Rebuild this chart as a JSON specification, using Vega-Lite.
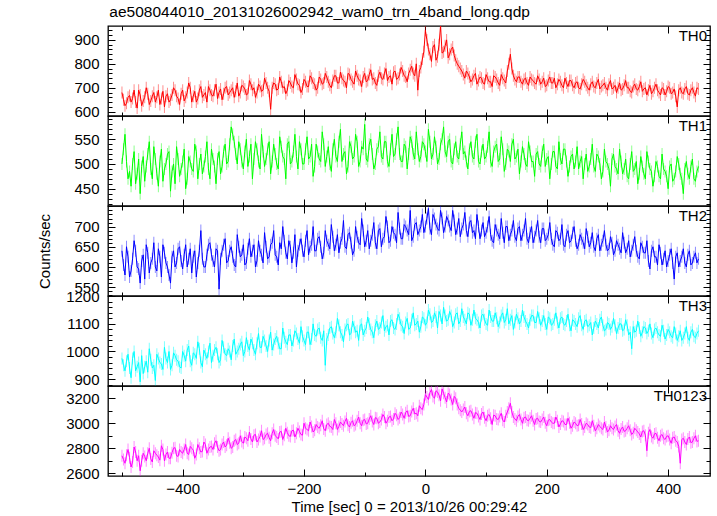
{
"$schema":"https://vega.github.io/schema/vega-lite/v6.json",
"padding":{"left":37,"top":5,"right":5,"bottom":0},
"title":{"text":"ae508044010_20131026002942_wam0_trn_4band_long.qdp","anchor":"start","fontSize":15.5,"fontWeight":"normal","font":"Liberation Sans","color":"black","offset":4,"dx":72},
"spacing":0,
"bounds":"flush",
"data":{"values":[
{"t":-500,"TH0":680,"TH1":500,"TH2":640,"TH3":975,"TH0123":2740},
{"t":-497.5,"TH0":650,"TH1":530,"TH2":605,"TH3":950,"TH0123":2710},
{"t":-495,"TH0":625,"TH1":560,"TH2":580,"TH3":930,"TH0123":2680},
{"t":-492.5,"TH0":635,"TH1":505,"TH2":650,"TH3":965,"TH0123":2745},
{"t":-490,"TH0":660,"TH1":470,"TH2":625,"TH3":990,"TH0123":2790},
{"t":-487.5,"TH0":668,"TH1":485,"TH2":575,"TH3":940,"TH0123":2725},
{"t":-485,"TH0":640,"TH1":455,"TH2":590,"TH3":905,"TH0123":2650},
{"t":-482.5,"TH0":655,"TH1":500,"TH2":620,"TH3":975,"TH0123":2690},
{"t":-480,"TH0":690,"TH1":525,"TH2":665,"TH3":1000,"TH0123":2810},
{"t":-477.5,"TH0":640,"TH1":460,"TH2":640,"TH3":930,"TH0123":2770},
{"t":-475,"TH0":615,"TH1":480,"TH2":600,"TH3":945,"TH0123":2700},
{"t":-472.5,"TH0":690,"TH1":510,"TH2":595,"TH3":960,"TH0123":2740},
{"t":-470,"TH0":670,"TH1":440,"TH2":560,"TH3":890,"TH0123":2620},
{"t":-467.5,"TH0":625,"TH1":495,"TH2":615,"TH3":985,"TH0123":2700},
{"t":-465,"TH0":645,"TH1":515,"TH2":630,"TH3":920,"TH0123":2760},
{"t":-462.5,"TH0":660,"TH1":465,"TH2":570,"TH3":945,"TH0123":2735},
{"t":-460,"TH0":700,"TH1":495,"TH2":655,"TH3":965,"TH0123":2700},
{"t":-457.5,"TH0":675,"TH1":520,"TH2":635,"TH3":925,"TH0123":2760},
{"t":-455,"TH0":630,"TH1":545,"TH2":585,"TH3":1010,"TH0123":2800},
{"t":-452.5,"TH0":645,"TH1":490,"TH2":610,"TH3":970,"TH0123":2715},
{"t":-450,"TH0":665,"TH1":470,"TH2":620,"TH3":940,"TH0123":2690},
{"t":-447.5,"TH0":680,"TH1":535,"TH2":660,"TH3":950,"TH0123":2780},
{"t":-445,"TH0":640,"TH1":510,"TH2":600,"TH3":895,"TH0123":2760},
{"t":-442.5,"TH0":660,"TH1":480,"TH2":590,"TH3":990,"TH0123":2745},
{"t":-440,"TH0":690,"TH1":455,"TH2":645,"TH3":975,"TH0123":2730},
{"t":-437.5,"TH0":630,"TH1":505,"TH2":625,"TH3":960,"TH0123":2705},
{"t":-435,"TH0":655,"TH1":530,"TH2":575,"TH3":955,"TH0123":2820},
{"t":-432.5,"TH0":685,"TH1":465,"TH2":655,"TH3":935,"TH0123":2790},
{"t":-430,"TH0":620,"TH1":490,"TH2":635,"TH3":1015,"TH0123":2700},
{"t":-427.5,"TH0":665,"TH1":500,"TH2":610,"TH3":975,"TH0123":2750},
{"t":-425,"TH0":675,"TH1":520,"TH2":600,"TH3":960,"TH0123":2770},
{"t":-422.5,"TH0":640,"TH1":525,"TH2":580,"TH3":1000,"TH0123":2720},
{"t":-420,"TH0":650,"TH1":445,"TH2":560,"TH3":935,"TH0123":2720},
{"t":-417.5,"TH0":670,"TH1":485,"TH2":625,"TH3":950,"TH0123":2765},
{"t":-415,"TH0":700,"TH1":500,"TH2":640,"TH3":995,"TH0123":2800},
{"t":-412.5,"TH0":690,"TH1":460,"TH2":600,"TH3":985,"TH0123":2805},
{"t":-410,"TH0":665,"TH1":535,"TH2":610,"TH3":970,"TH0123":2740},
{"t":-407.5,"TH0":655,"TH1":510,"TH2":645,"TH3":965,"TH0123":2735},
{"t":-405,"TH0":630,"TH1":475,"TH2":650,"TH3":945,"TH0123":2790},
{"t":-402.5,"TH0":675,"TH1":490,"TH2":615,"TH3":940,"TH0123":2770},
{"t":-400,"TH0":690,"TH1":505,"TH2":595,"TH3":1000,"TH0123":2760},
{"t":-397.5,"TH0":645,"TH1":530,"TH2":630,"TH3":985,"TH0123":2790},
{"t":-395,"TH0":660,"TH1":450,"TH2":655,"TH3":965,"TH0123":2830},
{"t":-392.5,"TH0":680,"TH1":470,"TH2":600,"TH3":1005,"TH0123":2760},
{"t":-390,"TH0":720,"TH1":515,"TH2":620,"TH3":1020,"TH0123":2750},
{"t":-387.5,"TH0":700,"TH1":505,"TH2":645,"TH3":965,"TH0123":2815},
{"t":-385,"TH0":640,"TH1":490,"TH2":585,"TH3":950,"TH0123":2800},
{"t":-382.5,"TH0":665,"TH1":485,"TH2":625,"TH3":995,"TH0123":2785},
{"t":-380,"TH0":685,"TH1":540,"TH2":640,"TH3":990,"TH0123":2720},
{"t":-377.5,"TH0":640,"TH1":525,"TH2":575,"TH3":975,"TH0123":2750},
{"t":-375,"TH0":655,"TH1":470,"TH2":610,"TH3":1035,"TH0123":2830},
{"t":-372.5,"TH0":690,"TH1":500,"TH2":640,"TH3":1010,"TH0123":2800},
{"t":-370,"TH0":705,"TH1":520,"TH2":690,"TH3":960,"TH0123":2770},
{"t":-367.5,"TH0":660,"TH1":480,"TH2":620,"TH3":945,"TH0123":2775},
{"t":-365,"TH0":670,"TH1":495,"TH2":600,"TH3":1005,"TH0123":2850},
{"t":-362.5,"TH0":680,"TH1":515,"TH2":600,"TH3":990,"TH0123":2830},
{"t":-360,"TH0":640,"TH1":545,"TH2":630,"TH3":975,"TH0123":2760},
{"t":-357.5,"TH0":705,"TH1":490,"TH2":655,"TH3":1000,"TH0123":2790},
{"t":-355,"TH0":690,"TH1":470,"TH2":660,"TH3":1030,"TH0123":2810},
{"t":-352.5,"TH0":670,"TH1":530,"TH2":630,"TH3":960,"TH0123":2815},
{"t":-350,"TH0":665,"TH1":510,"TH2":615,"TH3":985,"TH0123":2790},
{"t":-347.5,"TH0":690,"TH1":495,"TH2":600,"TH3":1005,"TH0123":2840},
{"t":-345,"TH0":715,"TH1":460,"TH2":645,"TH3":1015,"TH0123":2860},
{"t":-342.5,"TH0":655,"TH1":510,"TH2":640,"TH3":990,"TH0123":2810},
{"t":-340,"TH0":680,"TH1":525,"TH2":545,"TH3":960,"TH0123":2780},
{"t":-337.5,"TH0":695,"TH1":480,"TH2":620,"TH3":970,"TH0123":2790},
{"t":-335,"TH0":650,"TH1":495,"TH2":640,"TH3":1040,"TH0123":2830},
{"t":-332.5,"TH0":675,"TH1":525,"TH2":655,"TH3":1015,"TH0123":2850},
{"t":-330,"TH0":700,"TH1":540,"TH2":670,"TH3":990,"TH0123":2810},
{"t":-327.5,"TH0":705,"TH1":500,"TH2":610,"TH3":985,"TH0123":2825},
{"t":-325,"TH0":670,"TH1":505,"TH2":615,"TH3":1010,"TH0123":2880},
{"t":-322.5,"TH0":680,"TH1":540,"TH2":640,"TH3":1000,"TH0123":2845},
{"t":-320,"TH0":690,"TH1":575,"TH2":650,"TH3":970,"TH0123":2800},
{"t":-317.5,"TH0":700,"TH1":560,"TH2":625,"TH3":1020,"TH0123":2810},
{"t":-315,"TH0":660,"TH1":545,"TH2":605,"TH3":1045,"TH0123":2860},
{"t":-312.5,"TH0":685,"TH1":520,"TH2":600,"TH3":990,"TH0123":2870},
{"t":-310,"TH0":720,"TH1":500,"TH2":680,"TH3":1000,"TH0123":2830},
{"t":-307.5,"TH0":665,"TH1":545,"TH2":650,"TH3":1010,"TH0123":2840},
{"t":-305,"TH0":680,"TH1":530,"TH2":625,"TH3":1025,"TH0123":2900},
{"t":-302.5,"TH0":710,"TH1":505,"TH2":630,"TH3":1035,"TH0123":2855},
{"t":-300,"TH0":705,"TH1":490,"TH2":655,"TH3":985,"TH0123":2840},
{"t":-297.5,"TH0":695,"TH1":525,"TH2":605,"TH3":1000,"TH0123":2890},
{"t":-295,"TH0":670,"TH1":550,"TH2":610,"TH3":1050,"TH0123":2880},
{"t":-292.5,"TH0":675,"TH1":495,"TH2":645,"TH3":1020,"TH0123":2860},
{"t":-290,"TH0":730,"TH1":515,"TH2":670,"TH3":1005,"TH0123":2930},
{"t":-287.5,"TH0":715,"TH1":540,"TH2":625,"TH3":1045,"TH0123":2875},
{"t":-285,"TH0":690,"TH1":470,"TH2":640,"TH3":1030,"TH0123":2850},
{"t":-282.5,"TH0":700,"TH1":510,"TH2":655,"TH3":1005,"TH0123":2905},
{"t":-280,"TH0":660,"TH1":545,"TH2":600,"TH3":990,"TH0123":2910},
{"t":-277.5,"TH0":680,"TH1":530,"TH2":615,"TH3":1030,"TH0123":2850},
{"t":-275,"TH0":715,"TH1":505,"TH2":665,"TH3":1065,"TH0123":2870},
{"t":-272.5,"TH0":705,"TH1":490,"TH2":640,"TH3":1015,"TH0123":2895},
{"t":-270,"TH0":685,"TH1":560,"TH2":630,"TH3":1015,"TH0123":2940},
{"t":-267.5,"TH0":690,"TH1":525,"TH2":610,"TH3":1055,"TH0123":2870},
{"t":-265,"TH0":740,"TH1":495,"TH2":685,"TH3":1040,"TH0123":2880},
{"t":-262.5,"TH0":720,"TH1":510,"TH2":650,"TH3":1020,"TH0123":2910},
{"t":-260,"TH0":700,"TH1":530,"TH2":620,"TH3":1000,"TH0123":2920},
{"t":-257.5,"TH0":685,"TH1":545,"TH2":625,"TH3":1040,"TH0123":2885},
{"t":-255,"TH0":610,"TH1":480,"TH2":655,"TH3":1070,"TH0123":2860},
{"t":-252.5,"TH0":700,"TH1":505,"TH2":660,"TH3":1005,"TH0123":2920},
{"t":-250,"TH0":720,"TH1":540,"TH2":690,"TH3":1025,"TH0123":2950},
{"t":-247.5,"TH0":715,"TH1":520,"TH2":630,"TH3":1045,"TH0123":2900},
{"t":-245,"TH0":690,"TH1":500,"TH2":625,"TH3":1055,"TH0123":2890},
{"t":-242.5,"TH0":695,"TH1":490,"TH2":605,"TH3":1030,"TH0123":2875},
{"t":-240,"TH0":745,"TH1":555,"TH2":660,"TH3":1010,"TH0123":2930},
{"t":-237.5,"TH0":725,"TH1":535,"TH2":645,"TH3":1010,"TH0123":2935},
{"t":-235,"TH0":700,"TH1":515,"TH2":700,"TH3":1085,"TH0123":2870},
{"t":-232.5,"TH0":705,"TH1":510,"TH2":665,"TH3":1050,"TH0123":2905},
{"t":-230,"TH0":675,"TH1":470,"TH2":635,"TH3":1035,"TH0123":2960},
{"t":-227.5,"TH0":690,"TH1":540,"TH2":620,"TH3":1025,"TH0123":2925},
{"t":-225,"TH0":730,"TH1":545,"TH2":665,"TH3":1060,"TH0123":2900},
{"t":-222.5,"TH0":720,"TH1":500,"TH2":650,"TH3":1060,"TH0123":2895},
{"t":-220,"TH0":705,"TH1":505,"TH2":610,"TH3":1020,"TH0123":2940},
{"t":-217.5,"TH0":700,"TH1":525,"TH2":635,"TH3":1040,"TH0123":2945},
{"t":-215,"TH0":755,"TH1":560,"TH2":680,"TH3":1075,"TH0123":2890},
{"t":-212.5,"TH0":735,"TH1":515,"TH2":600,"TH3":1065,"TH0123":2920},
{"t":-210,"TH0":715,"TH1":490,"TH2":640,"TH3":1045,"TH0123":2960},
{"t":-207.5,"TH0":710,"TH1":545,"TH2":655,"TH3":1030,"TH0123":2935},
{"t":-205,"TH0":680,"TH1":530,"TH2":670,"TH3":1090,"TH0123":2910},
{"t":-202.5,"TH0":695,"TH1":500,"TH2":640,"TH3":1055,"TH0123":2905},
{"t":-200,"TH0":735,"TH1":500,"TH2":625,"TH3":1040,"TH0123":3000},
{"t":-197.5,"TH0":725,"TH1":530,"TH2":665,"TH3":1025,"TH0123":2960},
{"t":-195,"TH0":705,"TH1":555,"TH2":690,"TH3":1070,"TH0123":2950},
{"t":-192.5,"TH0":705,"TH1":510,"TH2":630,"TH3":1070,"TH0123":2940},
{"t":-190,"TH0":750,"TH1":515,"TH2":650,"TH3":1025,"TH0123":3010},
{"t":-187.5,"TH0":740,"TH1":540,"TH2":655,"TH3":1045,"TH0123":2975},
{"t":-185,"TH0":720,"TH1":475,"TH2":700,"TH3":1100,"TH0123":2930},
{"t":-182.5,"TH0":715,"TH1":495,"TH2":640,"TH3":1060,"TH0123":2945},
{"t":-180,"TH0":690,"TH1":540,"TH2":640,"TH3":1055,"TH0123":2990},
{"t":-177.5,"TH0":700,"TH1":525,"TH2":670,"TH3":1080,"TH0123":2970},
{"t":-175,"TH0":745,"TH1":510,"TH2":675,"TH3":1085,"TH0123":2960},
{"t":-172.5,"TH0":735,"TH1":505,"TH2":650,"TH3":1050,"TH0123":2985},
{"t":-170,"TH0":715,"TH1":565,"TH2":620,"TH3":1040,"TH0123":3020},
{"t":-167.5,"TH0":720,"TH1":540,"TH2":635,"TH3":1075,"TH0123":2955},
{"t":-165,"TH0":760,"TH1":495,"TH2":690,"TH3":950,"TH0123":2940},
{"t":-162.5,"TH0":745,"TH1":515,"TH2":665,"TH3":1045,"TH0123":2990},
{"t":-160,"TH0":725,"TH1":535,"TH2":655,"TH3":1060,"TH0123":3000},
{"t":-157.5,"TH0":710,"TH1":500,"TH2":645,"TH3":1085,"TH0123":2975},
{"t":-155,"TH0":700,"TH1":485,"TH2":705,"TH3":1090,"TH0123":2970},
{"t":-152.5,"TH0":730,"TH1":530,"TH2":675,"TH3":1065,"TH0123":2950},
{"t":-150,"TH0":750,"TH1":550,"TH2":640,"TH3":1050,"TH0123":3030},
{"t":-147.5,"TH0":750,"TH1":515,"TH2":655,"TH3":1070,"TH0123":3000},
{"t":-145,"TH0":720,"TH1":505,"TH2":680,"TH3":1120,"TH0123":2950},
{"t":-142.5,"TH0":720,"TH1":545,"TH2":635,"TH3":1095,"TH0123":2975},
{"t":-140,"TH0":765,"TH1":570,"TH2":660,"TH3":1070,"TH0123":3010},
{"t":-137.5,"TH0":740,"TH1":505,"TH2":670,"TH3":1060,"TH0123":2995},
{"t":-135,"TH0":730,"TH1":520,"TH2":715,"TH3":1035,"TH0123":2980},
{"t":-132.5,"TH0":725,"TH1":525,"TH2":650,"TH3":1080,"TH0123":3015},
{"t":-130,"TH0":700,"TH1":480,"TH2":645,"TH3":1095,"TH0123":3040},
{"t":-127.5,"TH0":760,"TH1":495,"TH2":680,"TH3":1100,"TH0123":2985},
{"t":-125,"TH0":755,"TH1":545,"TH2":685,"TH3":1060,"TH0123":2970},
{"t":-122.5,"TH0":735,"TH1":535,"TH2":660,"TH3":1065,"TH0123":3005},
{"t":-120,"TH0":725,"TH1":510,"TH2":630,"TH3":1110,"TH0123":3020},
{"t":-117.5,"TH0":715,"TH1":515,"TH2":640,"TH3":1090,"TH0123":2980},
{"t":-115,"TH0":770,"TH1":560,"TH2":700,"TH3":1070,"TH0123":2990},
{"t":-112.5,"TH0":750,"TH1":545,"TH2":675,"TH3":1075,"TH0123":3020},
{"t":-110,"TH0":735,"TH1":495,"TH2":660,"TH3":1040,"TH0123":3050},
{"t":-107.5,"TH0":730,"TH1":505,"TH2":655,"TH3":1095,"TH0123":3000},
{"t":-105,"TH0":705,"TH1":535,"TH2":720,"TH3":1100,"TH0123":2980},
{"t":-102.5,"TH0":745,"TH1":530,"TH2":690,"TH3":1060,"TH0123":3025},
{"t":-100,"TH0":760,"TH1":580,"TH2":650,"TH3":1075,"TH0123":3030},
{"t":-97.5,"TH0":725,"TH1":510,"TH2":665,"TH3":1085,"TH0123":2995},
{"t":-95,"TH0":730,"TH1":505,"TH2":690,"TH3":1125,"TH0123":3000},
{"t":-92.5,"TH0":755,"TH1":540,"TH2":645,"TH3":1100,"TH0123":3035},
{"t":-90,"TH0":775,"TH1":550,"TH2":665,"TH3":1080,"TH0123":3060},
{"t":-87.5,"TH0":735,"TH1":520,"TH2":680,"TH3":1070,"TH0123":3015},
{"t":-85,"TH0":740,"TH1":490,"TH2":710,"TH3":1050,"TH0123":2990},
{"t":-82.5,"TH0":720,"TH1":500,"TH2":660,"TH3":1095,"TH0123":3045},
{"t":-80,"TH0":710,"TH1":530,"TH2":645,"TH3":1110,"TH0123":3040},
{"t":-77.5,"TH0":750,"TH1":535,"TH2":690,"TH3":1080,"TH0123":3000},
{"t":-75,"TH0":765,"TH1":565,"TH2":695,"TH3":1085,"TH0123":3010},
{"t":-72.5,"TH0":740,"TH1":515,"TH2":650,"TH3":1105,"TH0123":3030},
{"t":-70,"TH0":735,"TH1":510,"TH2":670,"TH3":1130,"TH0123":3070},
{"t":-67.5,"TH0":760,"TH1":545,"TH2":675,"TH3":1075,"TH0123":3050},
{"t":-65,"TH0":780,"TH1":545,"TH2":725,"TH3":1090,"TH0123":3000},
{"t":-62.5,"TH0":730,"TH1":505,"TH2":700,"TH3":1095,"TH0123":3020},
{"t":-60,"TH0":745,"TH1":495,"TH2":660,"TH3":1060,"TH0123":3050},
{"t":-57.5,"TH0":750,"TH1":530,"TH2":665,"TH3":1110,"TH0123":3055},
{"t":-55,"TH0":715,"TH1":560,"TH2":700,"TH3":1115,"TH0123":3020},
{"t":-52.5,"TH0":765,"TH1":515,"TH2":685,"TH3":1085,"TH0123":3035},
{"t":-50,"TH0":770,"TH1":520,"TH2":680,"TH3":1080,"TH0123":3080},
{"t":-47.5,"TH0":735,"TH1":550,"TH2":660,"TH3":1100,"TH0123":3065},
{"t":-45,"TH0":740,"TH1":575,"TH2":735,"TH3":1135,"TH0123":3030},
{"t":-42.5,"TH0":755,"TH1":520,"TH2":695,"TH3":1120,"TH0123":3045},
{"t":-40,"TH0":785,"TH1":505,"TH2":670,"TH3":1095,"TH0123":3090},
{"t":-37.5,"TH0":770,"TH1":505,"TH2":670,"TH3":1090,"TH0123":3070},
{"t":-35,"TH0":750,"TH1":540,"TH2":705,"TH3":1065,"TH0123":3040},
{"t":-32.5,"TH0":745,"TH1":535,"TH2":700,"TH3":1105,"TH0123":3085},
{"t":-30,"TH0":725,"TH1":490,"TH2":690,"TH3":1120,"TH0123":3100},
{"t":-27.5,"TH0":760,"TH1":520,"TH2":680,"TH3":1080,"TH0123":3055},
{"t":-25,"TH0":775,"TH1":555,"TH2":740,"TH3":1085,"TH0123":3060},
{"t":-22.5,"TH0":790,"TH1":545,"TH2":665,"TH3":1115,"TH0123":3095},
{"t":-20,"TH0":760,"TH1":520,"TH2":675,"TH3":1140,"TH0123":3120},
{"t":-17.5,"TH0":750,"TH1":510,"TH2":705,"TH3":1095,"TH0123":3075},
{"t":-15,"TH0":800,"TH1":565,"TH2":710,"TH3":1100,"TH0123":3080},
{"t":-12.5,"TH0":690,"TH1":530,"TH2":680,"TH3":1110,"TH0123":3060},
{"t":-10,"TH0":770,"TH1":505,"TH2":690,"TH3":1070,"TH0123":3140},
{"t":-7.5,"TH0":785,"TH1":515,"TH2":700,"TH3":1090,"TH0123":3120},
{"t":-5,"TH0":820,"TH1":545,"TH2":730,"TH3":1125,"TH0123":3110},
{"t":-2.5,"TH0":850,"TH1":540,"TH2":685,"TH3":1120,"TH0123":3150},
{"t":0,"TH0":940,"TH1":525,"TH2":700,"TH3":1095,"TH0123":3230},
{"t":2.5,"TH0":900,"TH1":505,"TH2":720,"TH3":1105,"TH0123":3210},
{"t":5,"TH0":860,"TH1":570,"TH2":745,"TH3":1150,"TH0123":3190},
{"t":7.5,"TH0":840,"TH1":545,"TH2":695,"TH3":1135,"TH0123":3245},
{"t":10,"TH0":810,"TH1":510,"TH2":680,"TH3":1105,"TH0123":3270},
{"t":12.5,"TH0":870,"TH1":520,"TH2":730,"TH3":1110,"TH0123":3215},
{"t":15,"TH0":880,"TH1":555,"TH2":720,"TH3":1140,"TH0123":3200},
{"t":17.5,"TH0":815,"TH1":535,"TH2":705,"TH3":1125,"TH0123":3260},
{"t":20,"TH0":830,"TH1":500,"TH2":695,"TH3":1085,"TH0123":3250},
{"t":22.5,"TH0":880,"TH1":510,"TH2":690,"TH3":1145,"TH0123":3225},
{"t":25,"TH0":960,"TH1":540,"TH2":740,"TH3":1130,"TH0123":3180},
{"t":27.5,"TH0":845,"TH1":550,"TH2":720,"TH3":1100,"TH0123":3275},
{"t":30,"TH0":850,"TH1":575,"TH2":685,"TH3":1160,"TH0123":3240},
{"t":32.5,"TH0":875,"TH1":525,"TH2":700,"TH3":1130,"TH0123":3205},
{"t":35,"TH0":900,"TH1":515,"TH2":725,"TH3":1110,"TH0123":3170},
{"t":37.5,"TH0":825,"TH1":545,"TH2":715,"TH3":1115,"TH0123":3240},
{"t":40,"TH0":840,"TH1":550,"TH2":700,"TH3":1145,"TH0123":3230},
{"t":42.5,"TH0":860,"TH1":505,"TH2":690,"TH3":1130,"TH0123":3190},
{"t":45,"TH0":870,"TH1":500,"TH2":740,"TH3":1090,"TH0123":3150},
{"t":47.5,"TH0":835,"TH1":530,"TH2":715,"TH3":1105,"TH0123":3215},
{"t":50,"TH0":815,"TH1":545,"TH2":680,"TH3":1135,"TH0123":3200},
{"t":52.5,"TH0":800,"TH1":515,"TH2":695,"TH3":1140,"TH0123":3150},
{"t":55,"TH0":790,"TH1":510,"TH2":720,"TH3":1100,"TH0123":3120},
{"t":57.5,"TH0":780,"TH1":540,"TH2":675,"TH3":1110,"TH0123":3105},
{"t":60,"TH0":770,"TH1":565,"TH2":695,"TH3":1155,"TH0123":3090},
{"t":62.5,"TH0":755,"TH1":520,"TH2":705,"TH3":1125,"TH0123":3110},
{"t":65,"TH0":740,"TH1":525,"TH2":735,"TH3":1115,"TH0123":3130},
{"t":67.5,"TH0":770,"TH1":505,"TH2":690,"TH3":1100,"TH0123":3080},
{"t":70,"TH0":760,"TH1":490,"TH2":675,"TH3":1140,"TH0123":3060},
{"t":72.5,"TH0":745,"TH1":530,"TH2":710,"TH3":1135,"TH0123":3095},
{"t":75,"TH0":725,"TH1":545,"TH2":715,"TH3":1095,"TH0123":3100},
{"t":77.5,"TH0":735,"TH1":515,"TH2":685,"TH3":1115,"TH0123":3070},
{"t":80,"TH0":750,"TH1":510,"TH2":690,"TH3":1150,"TH0123":3040},
{"t":82.5,"TH0":760,"TH1":545,"TH2":670,"TH3":1120,"TH0123":3085},
{"t":85,"TH0":715,"TH1":560,"TH2":730,"TH3":1115,"TH0123":3080},
{"t":87.5,"TH0":730,"TH1":505,"TH2":700,"TH3":1105,"TH0123":3055},
{"t":90,"TH0":745,"TH1":500,"TH2":670,"TH3":1085,"TH0123":3030},
{"t":92.5,"TH0":740,"TH1":525,"TH2":690,"TH3":1130,"TH0123":3075},
{"t":95,"TH0":720,"TH1":540,"TH2":710,"TH3":1135,"TH0123":3090},
{"t":97.5,"TH0":715,"TH1":510,"TH2":675,"TH3":1115,"TH0123":3045},
{"t":100,"TH0":755,"TH1":515,"TH2":685,"TH3":1100,"TH0123":3020},
{"t":102.5,"TH0":740,"TH1":535,"TH2":700,"TH3":1095,"TH0123":3060},
{"t":105,"TH0":725,"TH1":565,"TH2":725,"TH3":1150,"TH0123":3070},
{"t":107.5,"TH0":725,"TH1":505,"TH2":680,"TH3":1125,"TH0123":3040},
{"t":110,"TH0":705,"TH1":495,"TH2":665,"TH3":1110,"TH0123":2990},
{"t":112.5,"TH0":750,"TH1":525,"TH2":660,"TH3":1110,"TH0123":3065},
{"t":115,"TH0":745,"TH1":535,"TH2":705,"TH3":1140,"TH0123":3060},
{"t":117.5,"TH0":735,"TH1":540,"TH2":690,"TH3":1120,"TH0123":3035},
{"t":120,"TH0":720,"TH1":505,"TH2":680,"TH3":1090,"TH0123":3030},
{"t":122.5,"TH0":710,"TH1":510,"TH2":670,"TH3":1105,"TH0123":3055},
{"t":125,"TH0":755,"TH1":555,"TH2":720,"TH3":1130,"TH0123":3080},
{"t":127.5,"TH0":740,"TH1":530,"TH2":685,"TH3":1140,"TH0123":3025},
{"t":130,"TH0":730,"TH1":485,"TH2":660,"TH3":1105,"TH0123":3010},
{"t":132.5,"TH0":720,"TH1":500,"TH2":700,"TH3":1115,"TH0123":3060},
{"t":135,"TH0":770,"TH1":530,"TH2":700,"TH3":1155,"TH0123":3090},
{"t":137.5,"TH0":800,"TH1":525,"TH2":665,"TH3":1100,"TH0123":3120},
{"t":140,"TH0":840,"TH1":505,"TH2":680,"TH3":1115,"TH0123":3160},
{"t":142.5,"TH0":780,"TH1":540,"TH2":690,"TH3":1130,"TH0123":3090},
{"t":145,"TH0":750,"TH1":550,"TH2":715,"TH3":1080,"TH0123":3050},
{"t":147.5,"TH0":735,"TH1":510,"TH2":675,"TH3":1105,"TH0123":3035},
{"t":150,"TH0":725,"TH1":515,"TH2":665,"TH3":1135,"TH0123":3020},
{"t":152.5,"TH0":745,"TH1":530,"TH2":695,"TH3":1120,"TH0123":3055},
{"t":155,"TH0":745,"TH1":480,"TH2":700,"TH3":1100,"TH0123":3070},
{"t":157.5,"TH0":725,"TH1":505,"TH2":665,"TH3":1110,"TH0123":3030},
{"t":160,"TH0":715,"TH1":535,"TH2":680,"TH3":1150,"TH0123":3000},
{"t":162.5,"TH0":735,"TH1":520,"TH2":690,"TH3":1125,"TH0123":3045},
{"t":165,"TH0":740,"TH1":500,"TH2":720,"TH3":1110,"TH0123":3050},
{"t":167.5,"TH0":720,"TH1":495,"TH2":670,"TH3":1100,"TH0123":3025},
{"t":170,"TH0":710,"TH1":545,"TH2":660,"TH3":1085,"TH0123":3020},
{"t":172.5,"TH0":745,"TH1":525,"TH2":685,"TH3":1115,"TH0123":3040},
{"t":175,"TH0":735,"TH1":505,"TH2":700,"TH3":1130,"TH0123":3060},
{"t":177.5,"TH0":730,"TH1":505,"TH2":660,"TH3":1130,"TH0123":3020},
{"t":180,"TH0":720,"TH1":475,"TH2":675,"TH3":1105,"TH0123":2990},
{"t":182.5,"TH0":715,"TH1":520,"TH2":690,"TH3":1105,"TH0123":3035},
{"t":185,"TH0":750,"TH1":525,"TH2":715,"TH3":1145,"TH0123":3040},
{"t":187.5,"TH0":735,"TH1":500,"TH2":675,"TH3":1120,"TH0123":3015},
{"t":190,"TH0":715,"TH1":495,"TH2":660,"TH3":1095,"TH0123":3010},
{"t":192.5,"TH0":725,"TH1":525,"TH2":695,"TH3":1110,"TH0123":3030},
{"t":195,"TH0":740,"TH1":540,"TH2":695,"TH3":1130,"TH0123":3050},
{"t":197.5,"TH0":705,"TH1":495,"TH2":665,"TH3":1100,"TH0123":3005},
{"t":200,"TH0":710,"TH1":510,"TH2":670,"TH3":1080,"TH0123":2980},
{"t":202.5,"TH0":730,"TH1":515,"TH2":680,"TH3":1125,"TH0123":3025},
{"t":205,"TH0":745,"TH1":470,"TH2":710,"TH3":1120,"TH0123":3030},
{"t":207.5,"TH0":720,"TH1":500,"TH2":670,"TH3":1095,"TH0123":3010},
{"t":210,"TH0":720,"TH1":525,"TH2":655,"TH3":1100,"TH0123":3000},
{"t":212.5,"TH0":740,"TH1":525,"TH2":650,"TH3":1115,"TH0123":3000},
{"t":215,"TH0":700,"TH1":495,"TH2":690,"TH3":1140,"TH0123":3050},
{"t":217.5,"TH0":715,"TH1":490,"TH2":685,"TH3":1105,"TH0123":3020},
{"t":220,"TH0":735,"TH1":545,"TH2":665,"TH3":1085,"TH0123":2970},
{"t":222.5,"TH0":725,"TH1":510,"TH2":670,"TH3":1120,"TH0123":2995},
{"t":225,"TH0":710,"TH1":500,"TH2":705,"TH3":1125,"TH0123":3020},
{"t":227.5,"TH0":700,"TH1":530,"TH2":655,"TH3":1100,"TH0123":3015},
{"t":230,"TH0":740,"TH1":530,"TH2":650,"TH3":1095,"TH0123":2990},
{"t":232.5,"TH0":720,"TH1":505,"TH2":680,"TH3":1110,"TH0123":2990},
{"t":235,"TH0":705,"TH1":475,"TH2":690,"TH3":1135,"TH0123":3040},
{"t":237.5,"TH0":730,"TH1":495,"TH2":660,"TH3":1095,"TH0123":3005},
{"t":240,"TH0":730,"TH1":515,"TH2":665,"TH3":1075,"TH0123":2960},
{"t":242.5,"TH0":710,"TH1":520,"TH2":685,"TH3":1115,"TH0123":2980},
{"t":245,"TH0":700,"TH1":490,"TH2":700,"TH3":1110,"TH0123":3010},
{"t":247.5,"TH0":720,"TH1":505,"TH2":665,"TH3":1100,"TH0123":3000},
{"t":250,"TH0":725,"TH1":535,"TH2":645,"TH3":1090,"TH0123":2980},
{"t":252.5,"TH0":700,"TH1":490,"TH2":655,"TH3":1120,"TH0123":2985},
{"t":255,"TH0":695,"TH1":505,"TH2":680,"TH3":1130,"TH0123":3030},
{"t":257.5,"TH0":715,"TH1":515,"TH2":670,"TH3":1095,"TH0123":2995},
{"t":260,"TH0":735,"TH1":470,"TH2":660,"TH3":1080,"TH0123":2950},
{"t":262.5,"TH0":725,"TH1":500,"TH2":645,"TH3":1110,"TH0123":2970},
{"t":265,"TH0":710,"TH1":520,"TH2":695,"TH3":1115,"TH0123":3000},
{"t":267.5,"TH0":700,"TH1":485,"TH2":675,"TH3":1090,"TH0123":2990},
{"t":270,"TH0":690,"TH1":495,"TH2":650,"TH3":1095,"TH0123":2970},
{"t":272.5,"TH0":715,"TH1":510,"TH2":660,"TH3":1105,"TH0123":2965},
{"t":275,"TH0":725,"TH1":540,"TH2":685,"TH3":1060,"TH0123":3020},
{"t":277.5,"TH0":705,"TH1":495,"TH2":650,"TH3":1085,"TH0123":2980},
{"t":280,"TH0":700,"TH1":485,"TH2":640,"TH3":1110,"TH0123":2940},
{"t":282.5,"TH0":720,"TH1":520,"TH2":670,"TH3":1100,"TH0123":2960},
{"t":285,"TH0":735,"TH1":515,"TH2":680,"TH3":1085,"TH0123":2990},
{"t":287.5,"TH0":695,"TH1":500,"TH2":640,"TH3":1115,"TH0123":2975},
{"t":290,"TH0":705,"TH1":470,"TH2":655,"TH3":1125,"TH0123":2960},
{"t":292.5,"TH0":710,"TH1":485,"TH2":665,"TH3":1095,"TH0123":2950},
{"t":295,"TH0":720,"TH1":530,"TH2":690,"TH3":1075,"TH0123":3010},
{"t":297.5,"TH0":700,"TH1":505,"TH2":655,"TH3":1080,"TH0123":2970},
{"t":300,"TH0":690,"TH1":500,"TH2":640,"TH3":1105,"TH0123":2930},
{"t":302.5,"TH0":715,"TH1":490,"TH2":645,"TH3":1100,"TH0123":2945},
{"t":305,"TH0":730,"TH1":455,"TH2":675,"TH3":1080,"TH0123":2980},
{"t":307.5,"TH0":695,"TH1":510,"TH2":660,"TH3":1090,"TH0123":2960},
{"t":310,"TH0":700,"TH1":520,"TH2":630,"TH3":1120,"TH0123":2950},
{"t":312.5,"TH0":710,"TH1":495,"TH2":640,"TH3":1095,"TH0123":2975},
{"t":315,"TH0":680,"TH1":490,"TH2":665,"TH3":1065,"TH0123":2990},
{"t":317.5,"TH0":700,"TH1":480,"TH2":655,"TH3":1085,"TH0123":2940},
{"t":320,"TH0":720,"TH1":530,"TH2":645,"TH3":1100,"TH0123":2920},
{"t":322.5,"TH0":690,"TH1":505,"TH2":635,"TH3":1100,"TH0123":2955},
{"t":325,"TH0":695,"TH1":480,"TH2":685,"TH3":1075,"TH0123":2970},
{"t":327.5,"TH0":710,"TH1":490,"TH2":660,"TH3":1080,"TH0123":2935},
{"t":330,"TH0":730,"TH1":510,"TH2":635,"TH3":1115,"TH0123":2940},
{"t":332.5,"TH0":700,"TH1":475,"TH2":645,"TH3":1095,"TH0123":2960},
{"t":335,"TH0":700,"TH1":470,"TH2":665,"TH3":1060,"TH0123":2980},
{"t":337.5,"TH0":685,"TH1":500,"TH2":625,"TH3":1070,"TH0123":2945},
{"t":340,"TH0":680,"TH1":525,"TH2":640,"TH3":1010,"TH0123":2910},
{"t":342.5,"TH0":705,"TH1":485,"TH2":655,"TH3":1090,"TH0123":2925},
{"t":345,"TH0":715,"TH1":490,"TH2":675,"TH3":1070,"TH0123":2960},
{"t":347.5,"TH0":695,"TH1":505,"TH2":640,"TH3":1075,"TH0123":2945},
{"t":350,"TH0":690,"TH1":460,"TH2":625,"TH3":1110,"TH0123":2930},
{"t":352.5,"TH0":705,"TH1":480,"TH2":620,"TH3":1085,"TH0123":2915},
{"t":355,"TH0":725,"TH1":515,"TH2":660,"TH3":1055,"TH0123":2890},
{"t":357.5,"TH0":685,"TH1":495,"TH2":650,"TH3":1070,"TH0123":2935},
{"t":360,"TH0":695,"TH1":480,"TH2":635,"TH3":1090,"TH0123":2940},
{"t":362.5,"TH0":700,"TH1":470,"TH2":635,"TH3":1085,"TH0123":2905},
{"t":365,"TH0":670,"TH1":525,"TH2":665,"TH3":1065,"TH0123":2780},
{"t":367.5,"TH0":690,"TH1":505,"TH2":615,"TH3":1075,"TH0123":2925},
{"t":370,"TH0":710,"TH1":490,"TH2":595,"TH3":1100,"TH0123":2950},
{"t":372.5,"TH0":675,"TH1":485,"TH2":640,"TH3":1065,"TH0123":2895},
{"t":375,"TH0":685,"TH1":455,"TH2":650,"TH3":1050,"TH0123":2880},
{"t":377.5,"TH0":700,"TH1":475,"TH2":625,"TH3":1080,"TH0123":2915},
{"t":380,"TH0":715,"TH1":505,"TH2":625,"TH3":1085,"TH0123":2920},
{"t":382.5,"TH0":690,"TH1":495,"TH2":605,"TH3":1070,"TH0123":2885},
{"t":385,"TH0":680,"TH1":475,"TH2":655,"TH3":1060,"TH0123":2860},
{"t":387.5,"TH0":670,"TH1":470,"TH2":635,"TH3":1055,"TH0123":2900},
{"t":390,"TH0":700,"TH1":520,"TH2":605,"TH3":1095,"TH0123":2910},
{"t":392.5,"TH0":695,"TH1":490,"TH2":620,"TH3":1075,"TH0123":2880},
{"t":395,"TH0":670,"TH1":485,"TH2":640,"TH3":1045,"TH0123":2870},
{"t":397.5,"TH0":685,"TH1":475,"TH2":600,"TH3":1060,"TH0123":2895},
{"t":400,"TH0":705,"TH1":450,"TH2":615,"TH3":1080,"TH0123":2900},
{"t":402.5,"TH0":700,"TH1":495,"TH2":630,"TH3":1070,"TH0123":2870},
{"t":405,"TH0":675,"TH1":500,"TH2":645,"TH3":1055,"TH0123":2840},
{"t":407.5,"TH0":680,"TH1":465,"TH2":610,"TH3":1050,"TH0123":2885},
{"t":410,"TH0":695,"TH1":470,"TH2":570,"TH3":1090,"TH0123":2890},
{"t":412.5,"TH0":665,"TH1":485,"TH2":625,"TH3":1065,"TH0123":2860},
{"t":415,"TH0":620,"TH1":515,"TH2":635,"TH3":1040,"TH0123":2850},
{"t":417.5,"TH0":690,"TH1":500,"TH2":600,"TH3":1055,"TH0123":2815},
{"t":420,"TH0":700,"TH1":480,"TH2":615,"TH3":1075,"TH0123":2680},
{"t":422.5,"TH0":680,"TH1":470,"TH2":625,"TH3":1040,"TH0123":2870},
{"t":425,"TH0":675,"TH1":440,"TH2":645,"TH3":1050,"TH0123":2880},
{"t":427.5,"TH0":695,"TH1":490,"TH2":610,"TH3":1065,"TH0123":2850},
{"t":430,"TH0":705,"TH1":505,"TH2":600,"TH3":1090,"TH0123":2830},
{"t":432.5,"TH0":675,"TH1":480,"TH2":630,"TH3":1050,"TH0123":2875},
{"t":435,"TH0":670,"TH1":470,"TH2":640,"TH3":1040,"TH0123":2890},
{"t":437.5,"TH0":690,"TH1":495,"TH2":605,"TH3":1070,"TH0123":2845},
{"t":440,"TH0":700,"TH1":510,"TH2":610,"TH3":1080,"TH0123":2850},
{"t":442.5,"TH0":680,"TH1":470,"TH2":625,"TH3":1055,"TH0123":2880},
{"t":445,"TH0":665,"TH1":465,"TH2":635,"TH3":1050,"TH0123":2900},
{"t":447.5,"TH0":700,"TH1":485,"TH2":610,"TH3":1065,"TH0123":2855},
{"t":450,"TH0":695,"TH1":495,"TH2":620,"TH3":1075,"TH0123":2860}
]},
"vconcat":[
{"width":602,"height":90,
 "layer":[
  {"mark":{"type":"tick","orient":"vertical","size":12,"thickness":1,"color":"#ff0000","opacity":0.45,"clip":true},
   "encoding":{"x":{"field":"t","type":"quantitative","scale":{"domain":[-523,469],"nice":false,"zero":false},"axis":{"orient":"bottom","values":[-400,-200,0,200,400],"labels":false,"title":null,"tickSize":-7,"maxExtent":0}},
    "y":{"field":"TH0","type":"quantitative","scale":{"domain":[582,958],"nice":false,"zero":false},"axis":{"orient":"left","values":[600,700,800,900],"tickSize":-7,"labelPadding":16,"title":null}}}},
  {"mark":{"type":"line","color":"#ff0000","strokeWidth":1,"clip":true},
   "encoding":{"x":{"field":"t","type":"quantitative","axis":{"orient":"top","values":[-400,-200,0,200,400],"labels":false,"title":null,"tickSize":-7,"maxExtent":0}},
    "y":{"field":"TH0","type":"quantitative","axis":{"orient":"right","values":[600,700,800,900],"labels":false,"title":null,"tickSize":-7,"maxExtent":0}}}},
  {"transform":[{"filter":"datum.t==0"}],"mark":{"type":"point","opacity":0},
   "encoding":{"x":{"field":"t","type":"quantitative","axis":{"orient":"bottom","values":[-500,-300,-100,100,300],"labels":false,"title":null,"tickSize":-4,"maxExtent":0}},
    "y":{"field":"TH0","type":"quantitative","axis":{"orient":"left","values":[600,620,640,660,680,700,720,740,760,780,800,820,840,860,880,900,920,940],"labels":false,"title":null,"tickSize":-4,"maxExtent":0}}}},
  {"transform":[{"filter":"datum.t==0"}],"mark":{"type":"point","opacity":0},
   "encoding":{"x":{"field":"t","type":"quantitative","axis":{"orient":"top","values":[-500,-300,-100,100,300],"labels":false,"title":null,"tickSize":-4,"maxExtent":0}},
    "y":{"field":"TH0","type":"quantitative","axis":{"orient":"right","values":[600,620,640,660,680,700,720,740,760,780,800,820,840,860,880,900,920,940],"labels":false,"title":null,"tickSize":-4,"maxExtent":0}}}},
  {"data":{"values":[{"lab":"TH0"}]},"mark":{"type":"text","align":"right","baseline":"top","dx":-3,"dy":3,"fontSize":15,"font":"Liberation Sans","color":"black"},
   "encoding":{"x":{"datum":469,"type":"quantitative","axis":null},"y":{"datum":958,"type":"quantitative","axis":null},"text":{"field":"lab"}}}
 ],
 "resolve":{"axis":{"x":"independent","y":"independent"}}},
{"width":602,"height":90,
 "layer":[
  {"mark":{"type":"tick","orient":"vertical","size":12,"thickness":1,"color":"#00ff00","opacity":0.45,"clip":true},
   "encoding":{"x":{"field":"t","type":"quantitative","scale":{"domain":[-523,469],"nice":false,"zero":false},"axis":{"orient":"bottom","values":[-400,-200,0,200,400],"labels":false,"title":null,"tickSize":-7,"maxExtent":0}},
    "y":{"field":"TH1","type":"quantitative","scale":{"domain":[415,597],"nice":false,"zero":false},"axis":{"orient":"left","values":[450,500,550],"tickSize":-7,"labelPadding":16,"title":null}}}},
  {"mark":{"type":"line","color":"#00ff00","strokeWidth":1,"clip":true},
   "encoding":{"x":{"field":"t","type":"quantitative","axis":{"orient":"top","values":[-400,-200,0,200,400],"labels":false,"title":null,"tickSize":-7,"maxExtent":0}},
    "y":{"field":"TH1","type":"quantitative","axis":{"orient":"right","values":[450,500,550],"labels":false,"title":null,"tickSize":-7,"maxExtent":0}}}},
  {"transform":[{"filter":"datum.t==0"}],"mark":{"type":"point","opacity":0},
   "encoding":{"x":{"field":"t","type":"quantitative","axis":{"orient":"bottom","values":[-500,-300,-100,100,300],"labels":false,"title":null,"tickSize":-4,"maxExtent":0}},
    "y":{"field":"TH1","type":"quantitative","axis":{"orient":"left","values":[420,430,440,450,460,470,480,490,500,510,520,530,540,550,560,570,580,590],"labels":false,"title":null,"tickSize":-4,"maxExtent":0}}}},
  {"transform":[{"filter":"datum.t==0"}],"mark":{"type":"point","opacity":0},
   "encoding":{"x":{"field":"t","type":"quantitative","axis":{"orient":"top","values":[-500,-300,-100,100,300],"labels":false,"title":null,"tickSize":-4,"maxExtent":0}},
    "y":{"field":"TH1","type":"quantitative","axis":{"orient":"right","values":[420,430,440,450,460,470,480,490,500,510,520,530,540,550,560,570,580,590],"labels":false,"title":null,"tickSize":-4,"maxExtent":0}}}},
  {"data":{"values":[{"lab":"TH1"}]},"mark":{"type":"text","align":"right","baseline":"top","dx":-3,"dy":3,"fontSize":15,"font":"Liberation Sans","color":"black"},
   "encoding":{"x":{"datum":469,"type":"quantitative","axis":null},"y":{"datum":597,"type":"quantitative","axis":null},"text":{"field":"lab"}}}
 ],
 "resolve":{"axis":{"x":"independent","y":"independent"}}},
{"width":602,"height":90,
 "layer":[
  {"mark":{"type":"tick","orient":"vertical","size":12,"thickness":1,"color":"#0000ff","opacity":0.45,"clip":true},
   "encoding":{"x":{"field":"t","type":"quantitative","scale":{"domain":[-523,469],"nice":false,"zero":false},"axis":{"orient":"bottom","values":[-400,-200,0,200,400],"labels":false,"title":null,"tickSize":-7,"maxExtent":0}},
    "y":{"field":"TH2","type":"quantitative","scale":{"domain":[528,751],"nice":false,"zero":false},"axis":{"orient":"left","values":[550,600,650,700],"tickSize":-7,"labelPadding":16,"title":"Counts/sec","titlePadding":21}}}},
  {"mark":{"type":"line","color":"#0000ff","strokeWidth":1,"clip":true},
   "encoding":{"x":{"field":"t","type":"quantitative","axis":{"orient":"top","values":[-400,-200,0,200,400],"labels":false,"title":null,"tickSize":-7,"maxExtent":0}},
    "y":{"field":"TH2","type":"quantitative","axis":{"orient":"right","values":[550,600,650,700],"labels":false,"title":null,"tickSize":-7,"maxExtent":0}}}},
  {"transform":[{"filter":"datum.t==0"}],"mark":{"type":"point","opacity":0},
   "encoding":{"x":{"field":"t","type":"quantitative","axis":{"orient":"bottom","values":[-500,-300,-100,100,300],"labels":false,"title":null,"tickSize":-4,"maxExtent":0}},
    "y":{"field":"TH2","type":"quantitative","axis":{"orient":"left","values":[530,540,550,560,570,580,590,600,610,620,630,640,650,660,670,680,690,700,710,720,730,740,750],"labels":false,"title":null,"tickSize":-4,"maxExtent":0}}}},
  {"transform":[{"filter":"datum.t==0"}],"mark":{"type":"point","opacity":0},
   "encoding":{"x":{"field":"t","type":"quantitative","axis":{"orient":"top","values":[-500,-300,-100,100,300],"labels":false,"title":null,"tickSize":-4,"maxExtent":0}},
    "y":{"field":"TH2","type":"quantitative","axis":{"orient":"right","values":[530,540,550,560,570,580,590,600,610,620,630,640,650,660,670,680,690,700,710,720,730,740,750],"labels":false,"title":null,"tickSize":-4,"maxExtent":0}}}},
  {"data":{"values":[{"lab":"TH2"}]},"mark":{"type":"text","align":"right","baseline":"top","dx":-3,"dy":3,"fontSize":15,"font":"Liberation Sans","color":"black"},
   "encoding":{"x":{"datum":469,"type":"quantitative","axis":null},"y":{"datum":751,"type":"quantitative","axis":null},"text":{"field":"lab"}}}
 ],
 "resolve":{"axis":{"x":"independent","y":"independent"}}},
{"width":602,"height":90,
 "layer":[
  {"mark":{"type":"tick","orient":"vertical","size":12,"thickness":1,"color":"#00ffff","opacity":0.5,"clip":true},
   "encoding":{"x":{"field":"t","type":"quantitative","scale":{"domain":[-523,469],"nice":false,"zero":false},"axis":{"orient":"bottom","values":[-400,-200,0,200,400],"labels":false,"title":null,"tickSize":-7,"maxExtent":0}},
    "y":{"field":"TH3","type":"quantitative","scale":{"domain":[875,1201],"nice":false,"zero":false},"axis":{"orient":"left","values":[900,1000,1100,1200],"format":"d","tickSize":-7,"labelPadding":16,"title":null}}}},
  {"mark":{"type":"line","color":"#00ffff","strokeWidth":1,"clip":true},
   "encoding":{"x":{"field":"t","type":"quantitative","axis":{"orient":"top","values":[-400,-200,0,200,400],"labels":false,"title":null,"tickSize":-7,"maxExtent":0}},
    "y":{"field":"TH3","type":"quantitative","axis":{"orient":"right","values":[900,1000,1100,1200],"labels":false,"title":null,"tickSize":-7,"maxExtent":0}}}},
  {"transform":[{"filter":"datum.t==0"}],"mark":{"type":"point","opacity":0},
   "encoding":{"x":{"field":"t","type":"quantitative","axis":{"orient":"bottom","values":[-500,-300,-100,100,300],"labels":false,"title":null,"tickSize":-4,"maxExtent":0}},
    "y":{"field":"TH3","type":"quantitative","axis":{"orient":"left","values":[880,900,920,940,960,980,1000,1020,1040,1060,1080,1100,1120,1140,1160,1180,1200],"labels":false,"title":null,"tickSize":-4,"maxExtent":0}}}},
  {"transform":[{"filter":"datum.t==0"}],"mark":{"type":"point","opacity":0},
   "encoding":{"x":{"field":"t","type":"quantitative","axis":{"orient":"top","values":[-500,-300,-100,100,300],"labels":false,"title":null,"tickSize":-4,"maxExtent":0}},
    "y":{"field":"TH3","type":"quantitative","axis":{"orient":"right","values":[880,900,920,940,960,980,1000,1020,1040,1060,1080,1100,1120,1140,1160,1180,1200],"labels":false,"title":null,"tickSize":-4,"maxExtent":0}}}},
  {"data":{"values":[{"lab":"TH3"}]},"mark":{"type":"text","align":"right","baseline":"top","dx":-3,"dy":3,"fontSize":15,"font":"Liberation Sans","color":"black"},
   "encoding":{"x":{"datum":469,"type":"quantitative","axis":null},"y":{"datum":1201,"type":"quantitative","axis":null},"text":{"field":"lab"}}}
 ],
 "resolve":{"axis":{"x":"independent","y":"independent"}}},
{"width":602,"height":90,
 "layer":[
  {"mark":{"type":"tick","orient":"vertical","size":12,"thickness":1,"color":"#ff00ff","opacity":0.45,"clip":true},
   "encoding":{"x":{"field":"t","type":"quantitative","scale":{"domain":[-523,469],"nice":false,"zero":false},"axis":{"orient":"bottom","values":[-400,-200,0,200,400],"labelPadding":12,"tickSize":-7,"title":"Time [sec] 0 = 2013/10/26 00:29:42","titlePadding":3}},
    "y":{"field":"TH0123","type":"quantitative","scale":{"domain":[2578,3298],"nice":false,"zero":false},"axis":{"orient":"left","values":[2600,2800,3000,3200],"format":"d","tickSize":-7,"labelPadding":16,"title":null}}}},
  {"mark":{"type":"line","color":"#ff00ff","strokeWidth":1,"clip":true},
   "encoding":{"x":{"field":"t","type":"quantitative","axis":{"orient":"top","values":[-400,-200,0,200,400],"labels":false,"title":null,"tickSize":-7,"maxExtent":0}},
    "y":{"field":"TH0123","type":"quantitative","axis":{"orient":"right","values":[2600,2800,3000,3200],"labels":false,"title":null,"tickSize":-7,"maxExtent":0}}}},
  {"transform":[{"filter":"datum.t==0"}],"mark":{"type":"point","opacity":0},
   "encoding":{"x":{"field":"t","type":"quantitative","axis":{"orient":"bottom","values":[-500,-300,-100,100,300],"labels":false,"title":null,"tickSize":-4,"maxExtent":0}},
    "y":{"field":"TH0123","type":"quantitative","axis":{"orient":"left","values":[2600,2700,2800,2900,3000,3100,3200],"labels":false,"title":null,"tickSize":-4,"maxExtent":0}}}},
  {"transform":[{"filter":"datum.t==0"}],"mark":{"type":"point","opacity":0},
   "encoding":{"x":{"field":"t","type":"quantitative","axis":{"orient":"top","values":[-500,-300,-100,100,300],"labels":false,"title":null,"tickSize":-4,"maxExtent":0}},
    "y":{"field":"TH0123","type":"quantitative","axis":{"orient":"right","values":[2600,2700,2800,2900,3000,3100,3200],"labels":false,"title":null,"tickSize":-4,"maxExtent":0}}}},
  {"data":{"values":[{"lab":"TH0123"}]},"mark":{"type":"text","align":"right","baseline":"top","dx":-3,"dy":3,"fontSize":15,"font":"Liberation Sans","color":"black"},
   "encoding":{"x":{"datum":469,"type":"quantitative","axis":null},"y":{"datum":3298,"type":"quantitative","axis":null},"text":{"field":"lab"}}}
 ],
 "resolve":{"axis":{"x":"independent","y":"independent"}}}
],
"config":{
 "view":{"stroke":"black","strokeWidth":1.3},
 "axis":{"grid":false,"domain":false,"minExtent":0,"tickColor":"black","tickWidth":1,"labelColor":"black","labelFont":"Liberation Sans","labelFontSize":15,"titleFont":"Liberation Sans","titleFontSize":15,"titleFontWeight":"normal","titleColor":"black","labelFlush":false,"labelOverlap":false,"zindex":1},
 "font":"Liberation Sans"
}
}
